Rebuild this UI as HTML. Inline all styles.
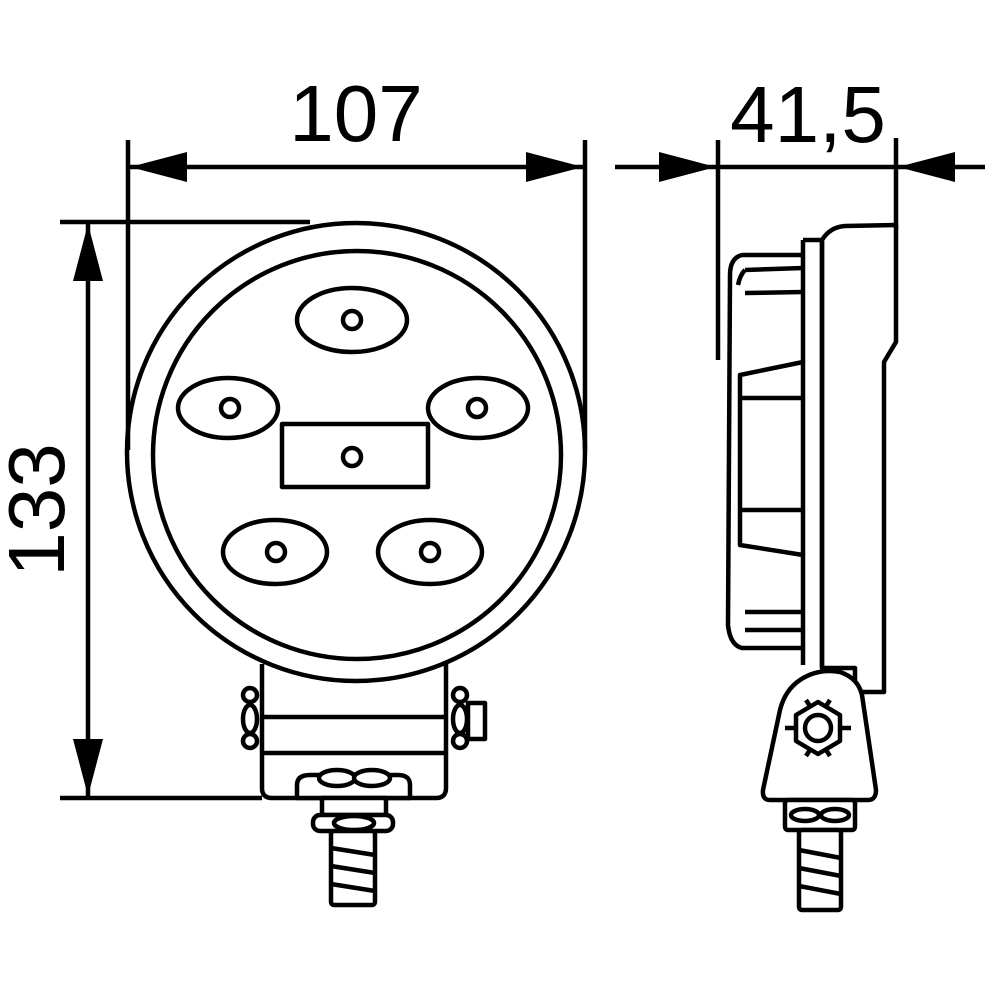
<!DOCTYPE html>
<html><head><style>html,body{margin:0;padding:0;background:#fff}svg{display:block}</style></head>
<body>
<svg width="1000" height="1000" viewBox="0 0 1000 1000" xmlns="http://www.w3.org/2000/svg" fill="none" stroke="#000" stroke-width="4.5" stroke-linejoin="round">
<!-- dimension 107 -->
<line x1="128" y1="140" x2="128" y2="450"/>
<line x1="585" y1="140" x2="585" y2="450"/>
<line x1="128" y1="167" x2="585" y2="167"/>
<polygon points="130,167 187,152 187,182" fill="#000" stroke="none"/>
<polygon points="583,167 526,152 526,182" fill="#000" stroke="none"/>
<text x="356" y="141" font-family="Liberation Sans, sans-serif" font-size="80" text-anchor="middle" fill="#000" stroke="none">107</text>
<!-- dimension 133 -->
<line x1="60" y1="222" x2="310" y2="222"/>
<line x1="60" y1="798" x2="262" y2="798"/>
<line x1="88" y1="222" x2="88" y2="798"/>
<polygon points="88,224 73,281 103,281" fill="#000" stroke="none"/>
<polygon points="88,796 73,739 103,739" fill="#000" stroke="none"/>
<text transform="translate(64,510) rotate(-90)" font-family="Liberation Sans, sans-serif" font-size="80" text-anchor="middle" fill="#000" stroke="none">133</text>
<!-- dimension 41,5 -->
<line x1="718" y1="140" x2="718" y2="360"/>
<line x1="896" y1="138" x2="896" y2="230"/>
<line x1="615" y1="167" x2="985" y2="167"/>
<polygon points="716,167 659,152 659,182" fill="#000" stroke="none"/>
<polygon points="898,167 955,152 955,182" fill="#000" stroke="none"/>
<text x="808" y="142" font-family="Liberation Sans, sans-serif" font-size="80" text-anchor="middle" fill="#000" stroke="none">41,5</text>
<!-- front view -->
<circle cx="356" cy="452" r="229"/>
<circle cx="357" cy="455" r="204"/>
<ellipse cx="352" cy="320" rx="55" ry="32"/><circle cx="352" cy="320" r="9"/>
<ellipse cx="228" cy="408" rx="50" ry="30"/><circle cx="230" cy="408" r="9"/>
<ellipse cx="478" cy="408" rx="50" ry="30"/><circle cx="477" cy="408" r="9"/>
<ellipse cx="275" cy="552" rx="52" ry="32"/><circle cx="276" cy="552" r="9"/>
<ellipse cx="430" cy="552" rx="52" ry="32"/><circle cx="430" cy="552" r="9"/>
<path d="M282,432 L282,487 L428,487 L428,424 L282,424 Z" fill="#fff"/>
<circle cx="352" cy="457" r="9"/>
<!-- bracket -->
<path d="M262,664 L262,788 Q262,798 272,798 L436,798 Q446,798 446,788 L446,664"/>
<line x1="262" y1="717" x2="446" y2="717"/>
<line x1="262" y1="753" x2="446" y2="753"/>
<g fill="#fff">
<circle cx="250" cy="695" r="7"/><ellipse cx="250" cy="719" rx="7" ry="14"/><circle cx="250" cy="741" r="7"/>
<rect x="468" y="703" width="17" height="36"/>
<circle cx="460" cy="695" r="7"/><ellipse cx="460" cy="719" rx="7" ry="14"/><circle cx="460" cy="741" r="7"/>
<path d="M297,798 L297,785 Q297,775 310,775 L398,775 Q410,775 410,785 L410,798 Z"/>
<ellipse cx="337" cy="778" rx="18" ry="8"/><ellipse cx="372" cy="778" rx="18" ry="8"/>
<rect x="322" y="798" width="64" height="17"/>
<rect x="313" y="815" width="80" height="16" rx="7"/>
<ellipse cx="354" cy="823" rx="20" ry="7"/>
<rect x="331" y="831" width="44" height="74" rx="3"/>
</g>
<line x1="331" y1="848" x2="375" y2="855"/><line x1="331" y1="866" x2="375" y2="873"/><line x1="331" y1="884" x2="375" y2="891"/>
<!-- side view housing -->
<path d="M822,240 Q830,227 845,226 L896,225 L896,342 L884,362 L884,692 L855,692 L855,668 L822,668 Z" fill="#fff"/>
<line x1="803" y1="240" x2="803" y2="665"/>
<line x1="803" y1="240" x2="822" y2="240"/>
<line x1="822" y1="240" x2="822" y2="668"/>
<path d="M803,255 L742,255 Q730,258 730,275 L728,625 Q730,645 742,648 L803,648"/>
<path d="M803,268 L745,270 M803,292 L745,293 M738,285 Q740,275 745,270"/>
<path d="M803,362 L740,375 L740,545 L803,555"/>
<path d="M740,398 L803,398 M740,510 L803,510"/>
<path d="M803,612 L745,612 M803,630 L745,630"/>
<!-- side bracket -->
<path d="M800,680 Q818,668 840,672 Q858,678 862,695 L876,790 Q876,800 868,800 L770,800 Q762,800 763,790 L780,710 Q785,690 800,680 Z" fill="#fff"/>
<polygon points="818,702 840,715 840,741 818,754 796,741 796,715"/>
<circle cx="818" cy="728" r="13"/>
<path d="M785,728 L796,728 M840,728 L851,728 M806,700 L810,706 M830,700 L826,706 M806,756 L810,750 M830,756 L826,750"/>
<g fill="#fff">
<rect x="785" y="800" width="70" height="30" rx="3"/>
<ellipse cx="805" cy="815" rx="14" ry="6"/><ellipse cx="835" cy="815" rx="14" ry="6"/>
<rect x="799" y="830" width="42" height="80" rx="3"/>
</g>
<line x1="799" y1="850" x2="841" y2="858"/><line x1="799" y1="868" x2="841" y2="876"/><line x1="799" y1="886" x2="841" y2="894"/>
</svg>
</body></html>
